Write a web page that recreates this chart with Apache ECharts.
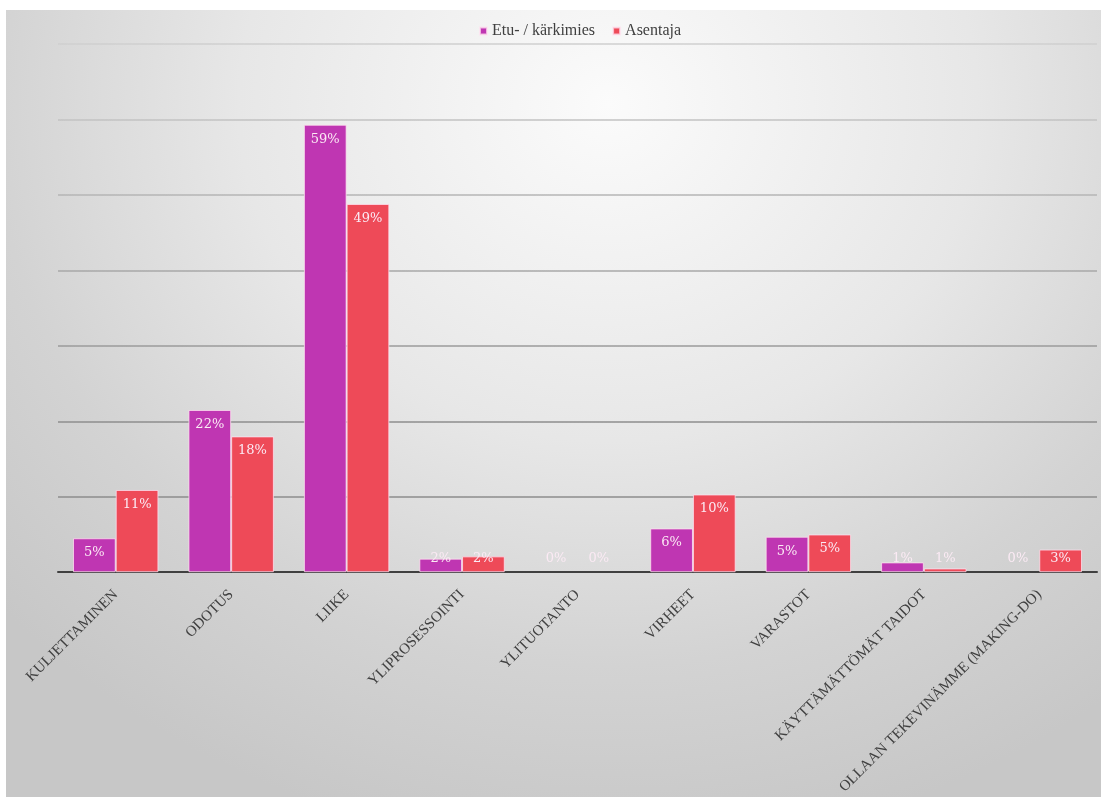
<!DOCTYPE html>
<html>
<head>
<meta charset="utf-8">
<script src="https://cdn.jsdelivr.net/npm/echarts@6/dist/echarts.min.js"></script>
<style>
  html, body { margin: 0; padding: 0; background: #ffffff; width: 1101px; height: 797px; overflow: hidden; }
  #chart {
    position: absolute; left: 6px; top: 10px; width: 1095px; height: 787px;
    background: radial-gradient(ellipse 75% 95% at 55% 12%, #fbfbfb 0%, #e7e7e7 45%, #d3d3d3 75%, #c7c7c7 100%);
  }
</style>
</head>
<body>
<div id="chart"></div>
<script>
// Muda categories (waste types) and share of answers per respondent group, in percent
const categories = [
  'KULJETTAMINEN', 'ODOTUS', 'LIIKE', 'YLIPROSESSOINTI', 'YLITUOTANTO',
  'VIRHEET', 'VARASTOT', 'KÄYTTÄMÄTTÖMÄT TAIDOT', 'OLLAAN TEKEVINÄMME (MAKING-DO)'
];
const seriesNames = ['Etu- / kärkimies', 'Asentaja'];
const etuKarkimies = [4.5, 21.5, 59.3, 1.8, 0, 5.8, 4.7, 1.3, 0];
const asentaja     = [10.9, 18.0, 48.8, 2.1, 0, 10.3, 5.0, 0.5, 3.0];
const colors = ['#BF36B2', '#EE4A58'];

const yMin = 0, yMax = 70, yStep = 10;

const chart = echarts.init(document.getElementById('chart'), null, { renderer: 'canvas' });

// short bars carry their value label just above the axis instead of inside the top;
// empty bars get no outline
function barData(values) {
  return values.map(v => ({
    value: v,
    itemStyle: v === 0 ? { borderWidth: 0 } : undefined,
    label: v < 4
      ? { position: 'insideBottom', distance: 7 }
      : { position: 'insideTop', distance: 8 }
  }));
}

function makeSeries(name, values, color) {
  return {
    name: name,
    type: 'bar',
    data: barData(values),
    barGap: '0%',
    barCategoryGap: '26%',
    itemStyle: { color: color, borderColor: 'rgba(255,225,240,0.75)', borderWidth: 1 },
    label: {
      show: true,
      color: '#FBEAF4',
      fontFamily: 'DejaVu Serif',
      fontSize: 13,
      formatter: p => Math.round(p.value) + '%'
    },
    emphasis: { disabled: true }
  };
}

chart.setOption({
  backgroundColor: 'transparent',
  animation: false,
  color: colors,
  legend: {
    data: seriesNames,
    left: 468,
    top: 8,
    icon: 'rect',
    itemWidth: 7,
    itemHeight: 7,
    itemGap: 17,
    textStyle: { fontFamily: 'Liberation Serif', fontSize: 16, color: '#404040' }
  },
  grid: { left: 52, right: 4, top: 34, bottom: 223, containLabel: false },
  xAxis: {
    type: 'category',
    data: categories,
    axisLine: { lineStyle: { color: '#404040', width: 2 } },
    axisTick: { show: false },
    axisLabel: {
      interval: 0,
      rotate: 45,
      margin: 20,
      fontFamily: 'Liberation Serif',
      fontSize: 15,
      color: '#404040'
    }
  },
  yAxis: {
    type: 'value',
    min: yMin,
    max: yMax,
    interval: yStep,
    axisLine: { show: false },
    axisTick: { show: false },
    axisLabel: { show: false },
    splitLine: {
      lineStyle: {
        width: 1.5,
        color: {
          type: 'linear', x: 0, y: 30, x2: 0, y2: 420, global: true,
          colorStops: [
            { offset: 0, color: '#d0d0d0' },
            { offset: 1, color: '#8c8c8c' }
          ]
        }
      }
    }
  },
  series: [
    makeSeries(seriesNames[0], etuKarkimies, colors[0]),
    makeSeries(seriesNames[1], asentaja, colors[1])
  ]
});
</script>
</body>
</html>
